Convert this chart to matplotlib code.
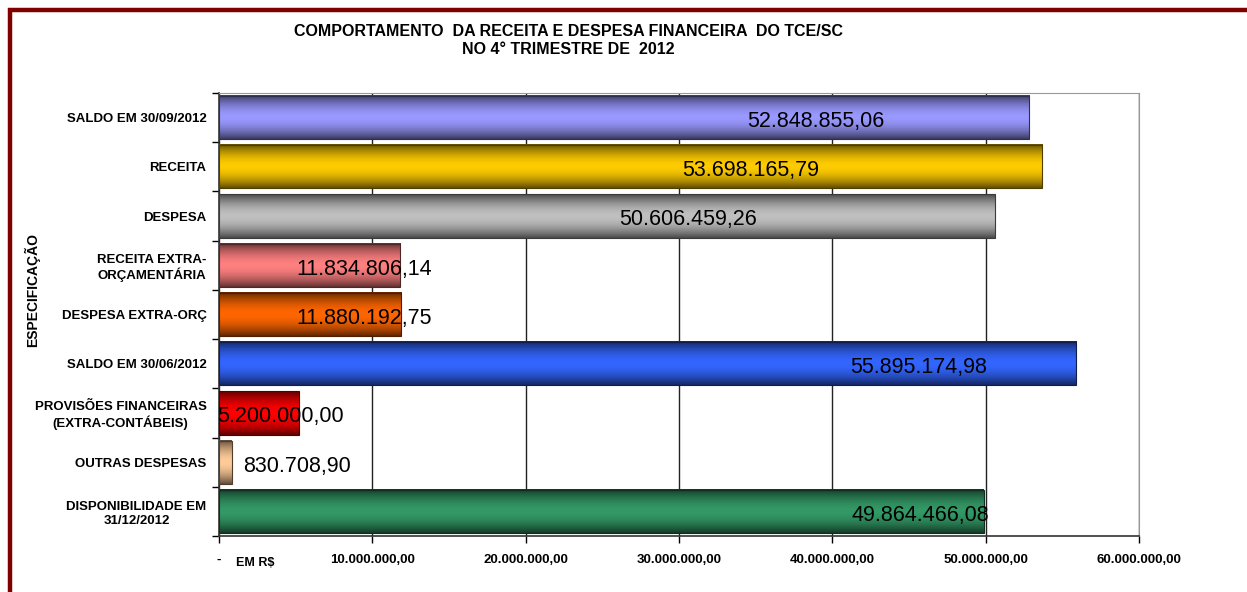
import numpy as np
import matplotlib
matplotlib.use("Agg")
import matplotlib.pyplot as plt
from matplotlib.colors import to_rgb
from matplotlib.patches import Rectangle

plt.rcParams["font.family"] = ["Liberation Sans", "DejaVu Sans"]

categories = ["SALDO EM 30/09/2012", "RECEITA", "DESPESA", "RECEITA EXTRA-\nORÇAMENTÁRIA",
              "DESPESA EXTRA-ORÇ", "SALDO EM 30/06/2012", "PROVISÕES FINANCEIRAS\n(EXTRA-CONTÁBEIS)",
              "OUTRAS DESPESAS", "DISPONIBILIDADE EM\n31/12/2012"]
values = [52848855.06, 53698165.79, 50606459.26, 11834806.14, 11880192.75,
          55895174.98, 5200000.00, 830708.90, 49864466.08]
value_labels = ["52.848.855,06", "53.698.165,79", "50.606.459,26", "11.834.806,14", "11.880.192,75",
                "55.895.174,98", "5.200.000,00", "830.708,90", "49.864.466,08"]
# label centre positions (data units) as they sit in the original
label_pos = [38.9e6, 34.7e6, 30.6e6, 9.46e6, 9.46e6, 45.6e6, 4.04e6, 5.1e6, 45.75e6]
colors = ["#9999FF", "#FFCC00", "#C0C0C0", "#FF8080", "#FF6600",
          "#3366FF", "#FF0000", "#FFCC99", "#339966"]
xticks = [0, 10e6, 20e6, 30e6, 40e6, 50e6, 60e6]
xtick_labels = ["-", "10.000.000,00", "20.000.000,00", "30.000.000,00",
                "40.000.000,00", "50.000.000,00", "60.000.000,00"]

fig = plt.figure(figsize=(12.47, 5.92), dpi=100)
ax = fig.add_axes([219 / 1247, 1 - 536 / 592, 920 / 1247, 443 / 592])

h = 0.88
t = np.linspace(0, 1, 120)
shade = 1 - 0.62 * np.abs(2 * t - 1) ** 1.8
for i, (v, c) in enumerate(zip(values, colors)):
    base = np.array(to_rgb(c))
    img = shade[:, None, None] * base[None, None, :]
    ax.imshow(img, extent=[0, v, i + h / 2, i - h / 2], aspect="auto", zorder=3,
              interpolation="bilinear")
    ax.add_patch(Rectangle((0, i - h / 2), v, h, fill=False,
                           edgecolor=tuple(base * 0.3), lw=0.8, zorder=4))
    ax.text(label_pos[i], i + 0.08, value_labels[i], ha="center", va="center",
            fontsize=15.5, color="black", zorder=5)

ax.set_xlim(0, 60e6)
ax.set_ylim(len(values) - 0.5, -0.5)
ax.set_xticks(xticks)
ax.set_xticklabels(xtick_labels, fontsize=9.5, fontweight="bold")
ax.set_yticks(range(len(categories)))
ax.set_yticklabels(categories, fontsize=9.5, fontweight="bold", multialignment="center")
ax.set_yticks(np.arange(-0.5, len(categories), 1), minor=True)
ax.tick_params(axis="y", which="major", length=0, pad=9)
ax.tick_params(axis="y", which="minor", length=5, direction="out", width=1)
ax.tick_params(axis="x", length=5, direction="out", width=1, pad=8)
ax.grid(axis="x", color="#222222", lw=1, zorder=1)
for s in ["top", "right"]:
    ax.spines[s].set_color("#999999")
for s in ["left", "bottom"]:
    ax.spines[s].set_color("#333333")
    ax.spines[s].set_linewidth(1.2)

fig.text(568 / 1247, 1 - 32 / 592, "COMPORTAMENTO  DA RECEITA E DESPESA FINANCEIRA  DO TCE/SC",
         ha="center", va="center", fontsize=11.5, fontweight="bold")
fig.text(568 / 1247, 1 - 50 / 592, "NO 4° TRIMESTRE DE  2012",
         ha="center", va="center", fontsize=11.5, fontweight="bold")
fig.text(32 / 1247, 1 - 290 / 592, "ESPECIFICAÇÃO", rotation=90, ha="center", va="center",
         fontsize=10, fontweight="bold")
fig.text(255 / 1247, 1 - 563 / 592, "EM R$", ha="center", va="center",
         fontsize=9, fontweight="bold")

fig.patches.append(Rectangle((10 / 1247, -0.1), 1.2, 1 - 10 / 592 + 0.1, transform=fig.transFigure,
                             fill=False, edgecolor="#800000", lw=3.2, figure=fig))

fig.savefig("out.png", dpi=100)
